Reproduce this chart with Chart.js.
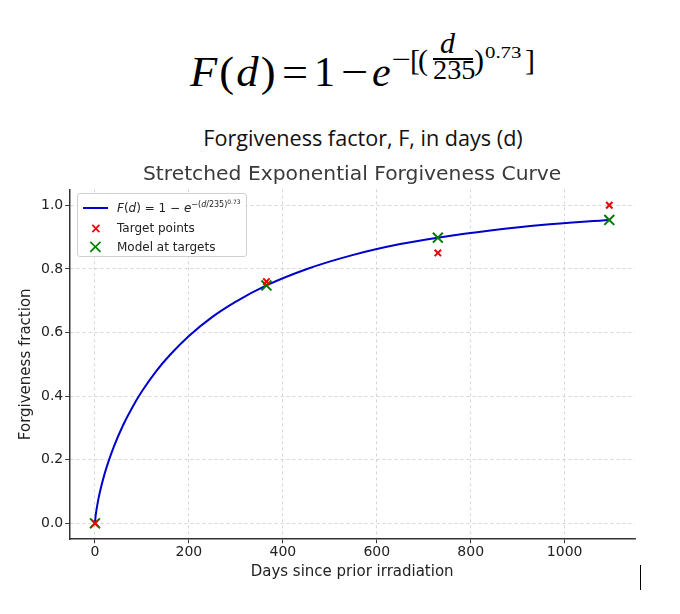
<!DOCTYPE html>
<html>
<head>
<meta charset="utf-8">
<script src="https://cdn.jsdelivr.net/npm/chart.js@4.4.1/dist/chart.umd.min.js"></script>
<style>
  body { margin: 0; background: #fff; }
  #page { position: relative; width: 680px; height: 614px; overflow: hidden; }
  #formula span { position: absolute; font-family: "Liberation Serif", "DejaVu Serif", serif; line-height: 1; color: #000; white-space: nowrap; transform-origin: left center; }
  #formula .m { font-size: 42px; top: 51px; }
  #formula .b { font-size: 30px; top: 45px; }
  #formula i { font-style: italic; }
  #bar { position: absolute; left: 433px; top: 58px; width: 40px; height: 1.5px; background: #000; }
  #header { position: absolute; left: 0; width: 726px; top: 123px; text-align: center; font-family: "Open Sans", "Noto Sans", sans-serif; font-size: 21.6px; color: #111; }
  #legend { position: absolute; left: 77px; top: 193px; width: 168px; height: 62px; border: 1px solid #d0d0d0; border-radius: 3px; background: rgba(255,255,255,0.85); font-family: "DejaVu Sans", sans-serif; font-size: 12px; color: #222; }
  #legend .row { position: absolute; left: 0; width: 100%; height: 18px; line-height: 18px; }
  #legend .txt { position: absolute; left: 39px; top: 0; white-space: nowrap; }
  #legend sup { line-height: 0; vertical-align: 5px; font-size: 8px; }
  #wrap { position: absolute; left: 0; top: 0; width: 680px; height: 614px; }
  #mark { position: absolute; left: 640px; top: 565px; width: 1px; height: 25px; background: #000; }
</style>
</head>
<body>
<div id="page">
  <div id="formula">
    <span class="m" style="left:190px; letter-spacing:2px; transform:scaleX(1.06);"><i>F</i>(<i>d</i>)</span>
    <span class="m" style="left:282px; transform:scaleX(1.1);">=</span>
    <span class="m" style="left:314px;">1</span>
    <span class="m" style="left:341px; transform:scaleX(1.15);">−</span>
    <span class="m" style="left:372px;"><i>e</i></span>
    <span style="left:392px; top:47px; font-size:26px; transform:scaleX(1.3);">−</span>
    <span class="b" style="left:410px;">[</span>
    <span class="b" style="left:418px;">(</span>
    <span style="left:440px; top:28px; font-size:30px;"><i>d</i></span>
    <span style="left:433px; top:57px; font-size:27px; transform:scaleX(1.05);">235</span>
    <span class="b" style="left:474px;">)</span>
    <span style="left:485px; top:45px; font-size:16px; transform:scaleX(1.3);">0.73</span>
    <span class="b" style="left:525px;">]</span>
    <div id="bar"></div>
  </div>
  <div id="header">Forgiveness factor, F, in days (d)</div>
  <div id="wrap"><canvas id="chart"></canvas></div>
  <div id="legend">
    <div class="row" style="top:5px;">
      <span style="position:absolute; left:5px; top:8px; width:25px; height:2px; background:#0000cc;"></span>
      <span class="txt"><i>F</i>(<i>d</i>) = 1 − <i>e</i><sup>−(<i>d</i>/235)<sup style="font-size:6px; vertical-align:3px;">0.73</sup></sup></span>
    </div>
    <div class="row" style="top:25px;">
      <span style="position:absolute; left:12px; top:0; color:#ee0000; font-size:14px; font-weight:bold;">×</span>
      <span class="txt">Target points</span>
    </div>
    <div class="row" style="top:44px;">
      <span style="position:absolute; left:9px; top:-1px; color:#008000; font-size:20px;">×</span>
      <span class="txt">Model at targets</span>
    </div>
  </div>
  <div id="mark"></div>
</div>
<script>
const curveDays = [0, 1, 2, 5, 10, 20, 40, 60, 80, 100, 130, 160, 200, 250, 300, 365, 450, 550, 650, 730, 850, 950, 1095];
const curveF = [0, 0.018, 0.030, 0.058, 0.095, 0.153, 0.240, 0.309, 0.366, 0.415, 0.478, 0.530, 0.589, 0.649, 0.697, 0.748, 0.799, 0.844, 0.878, 0.898, 0.922, 0.938, 0.954];

const targetDays = [0, 365, 730, 1095];
const targetF = [0, 0.76, 0.85, 1.0];
const modelF = [0, 0.748, 0.898, 0.954];

const xTicks = [0, 200, 400, 600, 800, 1000];
const yTicks = [0, 0.2, 0.4, 0.6, 0.8, 1.0];

const toPts = (xs, ys) => xs.map((x, i) => ({ x: x, y: ys[i] }));

Chart.defaults.font.family = "'DejaVu Sans', sans-serif";
Chart.defaults.color = "#222";

const gridOpts = { color: "#cccccc", lineWidth: 0.8, tickBorderDash: [], tickColor: "#333", tickLength: 4, tickWidth: 1 };
const borderOpts = { display: true, color: "#333", width: 1.5, dash: [3, 3] };

new Chart(document.getElementById("chart"), {
  type: "scatter",
  data: {
    datasets: [
      {
        label: "Target points",
        data: toPts(targetDays, targetF),
        pointStyle: "crossRot",
        radius: 4.5,
        borderColor: "#ee0000",
        borderWidth: 2,
        order: 0,
      },
      {
        label: "Model at targets",
        data: toPts(targetDays, modelF),
        pointStyle: "crossRot",
        radius: 7,
        borderColor: "#007a00",
        borderWidth: 2,
        order: 1,
      },
      {
        label: "F(d)",
        type: "line",
        data: toPts(curveDays, curveF),
        borderColor: "#0000cc",
        borderWidth: 2,
        pointRadius: 0,
        cubicInterpolationMode: "monotone",
        fill: false,
        order: 2,
      },
    ],
  },
  options: {
    responsive: true,
    maintainAspectRatio: false,
    animation: false,
    layout: { padding: { top: 157, right: 45, bottom: 33, left: 17 } },
    plugins: {
      legend: { display: false },
      tooltip: { enabled: false },
      title: {
        display: true,
        text: "Stretched Exponential Forgiveness Curve",
        fullSize: false,
        color: "#3a3a3a",
        font: { size: 20.3, weight: "normal" },
        padding: { top: 6, bottom: 2 },
      },
    },
    scales: {
      x: {
        type: "linear",
        min: -54.75,
        max: 1149.75,
        afterBuildTicks: (axis) => { axis.ticks = xTicks.map((v) => ({ value: v })); },
        ticks: { font: { size: 14 }, color: "#222", padding: 1, maxRotation: 0, callback: (v) => String(v) },
        grid: gridOpts,
        border: borderOpts,
        title: { display: true, text: "Days since prior irradiation", font: { size: 15 }, color: "#222", padding: { top: 1, bottom: 0 } },
      },
      y: {
        type: "linear",
        min: -0.05,
        max: 1.05,
        afterBuildTicks: (axis) => { axis.ticks = yTicks.map((v) => ({ value: v })); },
        ticks: { font: { size: 14 }, color: "#222", padding: 2, callback: (v) => v.toFixed(1) },
        grid: gridOpts,
        border: borderOpts,
        title: { display: true, text: "Forgiveness fraction", font: { size: 15 }, color: "#222", padding: { top: 0, bottom: 4 } },
      },
    },
  },
});
</script>
</body>
</html>
